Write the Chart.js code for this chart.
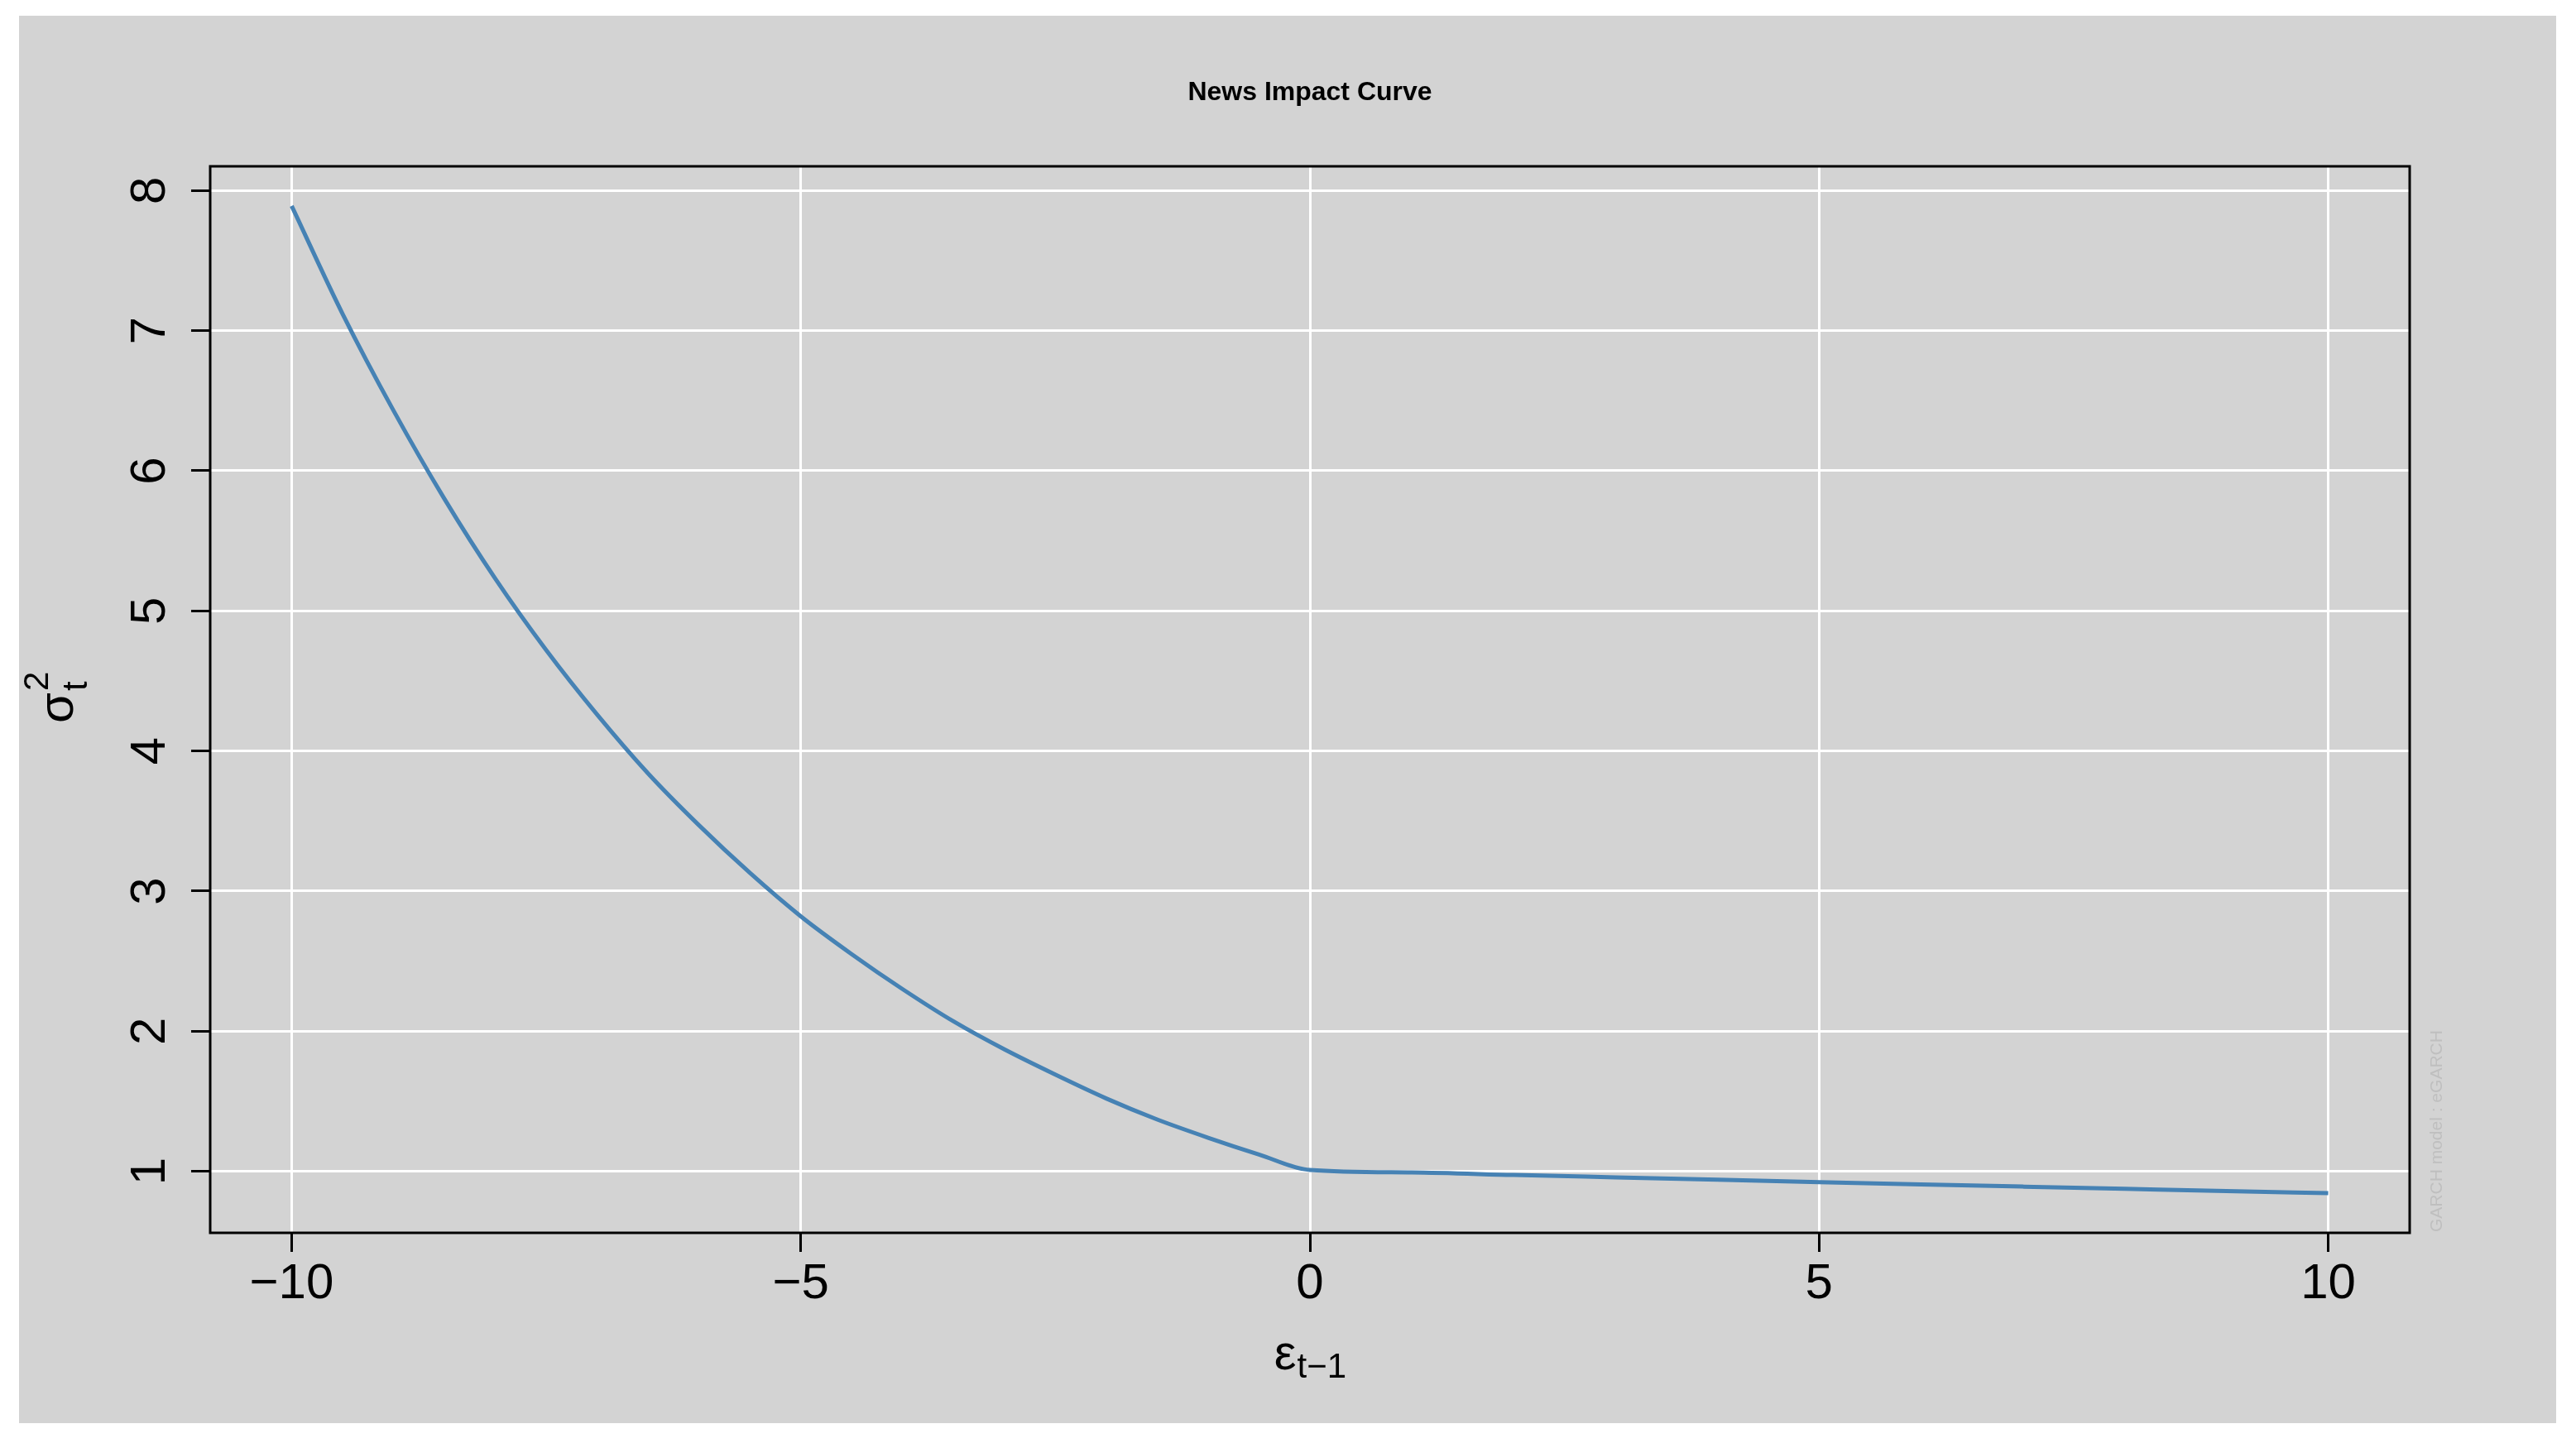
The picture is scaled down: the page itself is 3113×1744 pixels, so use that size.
<!DOCTYPE html>
<html>
<head>
<meta charset="utf-8">
<script src="https://cdn.jsdelivr.net/npm/chart.js@4.4.0/dist/chart.umd.min.js"></script>
<style>
  html, body { margin: 0; padding: 0; background: #fff; }
  canvas { display: block; }
</style>
</head>
<body>
<canvas id="nic" width="3113" height="1744"></canvas>
<script>
// News impact curve, eGARCH
const epsilon = [-10, -9.5, -9, -8.5, -8, -7.5, -7, -6.5, -6, -5.5, -5, -4.5, -4, -3.5, -3, -2.5, -2, -1.5, -1, -0.5,
                 0, 1, 2, 3, 4, 5, 6, 7, 8, 9, 10];
const sigma2 = [7.89, 7.12, 6.43, 5.80, 5.23, 4.72, 4.26, 3.84, 3.47, 3.13, 2.82, 2.55, 2.30, 2.07, 1.87, 1.69, 1.52, 1.37, 1.24, 1.12,
                1.01, 0.992, 0.974, 0.957, 0.940, 0.923, 0.907, 0.891, 0.875, 0.859, 0.844];
const xTicks = [-10, -5, 0, 5, 10];
const yTicks = [1, 2, 3, 4, 5, 6, 7, 8];
const title = 'News Impact Curve';
const watermark = 'GARCH model : eGARCH';

const FONT = '"Liberation Sans", Arial, Helvetica, sans-serif';
const minus = (v) => String(v).replace('-', '\u2212');

// background panel, title, axis labels, box
const decor = {
    id: 'decor',
    beforeDraw(chart) {
        const ctx = chart.ctx;
        ctx.save();
        ctx.fillStyle = '#ffffff';
        ctx.fillRect(0, 0, chart.width, chart.height);
        ctx.fillStyle = '#d3d3d3';
        ctx.fillRect(23, 19, 3066, 1701);
        ctx.restore();
    },
    afterDraw(chart) {
        const ctx = chart.ctx;
        const area = chart.chartArea;
        const ys = chart.scales.y;
        const cx = (area.left + area.right) / 2;
        const cy = (area.top + area.bottom) / 2;
        ctx.save();

        // plot box
        ctx.strokeStyle = '#000';
        ctx.lineWidth = 3;
        ctx.strokeRect(area.left, area.top, area.right - area.left, area.bottom - area.top);

        // title
        ctx.fillStyle = '#000';
        ctx.font = 'bold 32px ' + FONT;
        ctx.textAlign = 'center';
        ctx.textBaseline = 'alphabetic';
        ctx.fillText(title, cx, 121);

        // y tick labels (rotated, like R)
        ctx.font = '60px ' + FONT;
        yTicks.forEach((v) => {
            const py = ys.getPixelForValue(v);
            ctx.save();
            ctx.translate(199, py);
            ctx.rotate(-Math.PI / 2);
            ctx.textAlign = 'center';
            ctx.fillText(minus(v), 0, 0);
            ctx.restore();
        });

        // x axis label: epsilon_{t-1}
        ctx.textAlign = 'left';
        ctx.font = '60px ' + FONT;
        const epsW = ctx.measureText('\u03b5').width;
        ctx.font = '42px ' + FONT;
        const subW = ctx.measureText('t\u22121').width;
        const x0 = cx - (epsW + subW) / 2;
        ctx.font = '60px ' + FONT;
        ctx.fillText('\u03b5', x0, 1655);
        ctx.font = '42px ' + FONT;
        ctx.fillText('t\u22121', x0 + epsW + 1, 1665);

        // y axis label: sigma^2_t
        ctx.save();
        ctx.translate(88, cy);
        ctx.rotate(-Math.PI / 2);
        ctx.font = '60px ' + FONT;
        const sigW = ctx.measureText('\u03c3').width;
        const lx = -(sigW + 20) / 2;
        ctx.fillText('\u03c3', lx, 0);
        ctx.font = '42px ' + FONT;
        ctx.fillText('2', lx + sigW + 2, -30);
        ctx.fillText('t', lx + sigW + 2, 17);
        ctx.restore();

        // watermark
        ctx.save();
        ctx.translate(2951, area.bottom - 1);
        ctx.rotate(-Math.PI / 2);
        ctx.fillStyle = '#bfbfbf';
        ctx.font = '21px ' + FONT;
        ctx.fillText(watermark, 0, 0);
        ctx.restore();

        ctx.restore();
    },
};

const points = epsilon.map((e, i) => ({ x: e, y: sigma2[i] }));

new Chart(document.getElementById('nic'), {
    type: 'line',
    data: {
        datasets: [
            {
                data: points,
                borderColor: '#4682b4',
                borderWidth: 5,
                pointRadius: 0,
                fill: false,
                cubicInterpolationMode: 'monotone',
            },
        ],
    },
    options: {
        responsive: false,
        animation: false,
        devicePixelRatio: 1,
        layout: { padding: { top: 201, right: 201, left: 0, bottom: 0 } },
        plugins: {
            legend: { display: false },
            tooltip: { enabled: false },
        },
        scales: {
            x: {
                type: 'linear',
                min: -10.8,
                max: 10.8,
                afterBuildTicks: (s) => { s.ticks = xTicks.map((v) => ({ value: v })); },
                afterFit: (s) => { s.height = 254; },
                border: { display: false },
                grid: { color: '#ffffff', lineWidth: 3, tickColor: '#000', tickLength: 23, tickWidth: 3 },
                ticks: {
                    color: '#000',
                    font: { family: FONT, size: 60 },
                    padding: 3,
                    maxRotation: 0,
                    callback: (v) => minus(v),
                },
            },
            y: {
                type: 'linear',
                min: 0.561,
                max: 8.173,
                afterBuildTicks: (s) => { s.ticks = yTicks.map((v) => ({ value: v })); },
                afterFit: (s) => { s.width = 254; },
                border: { display: false },
                grid: { color: '#ffffff', lineWidth: 3, tickColor: '#000', tickLength: 23, tickWidth: 3 },
                ticks: { display: false },
            },
        },
    },
    plugins: [decor],
});
</script>
</body>
</html>
